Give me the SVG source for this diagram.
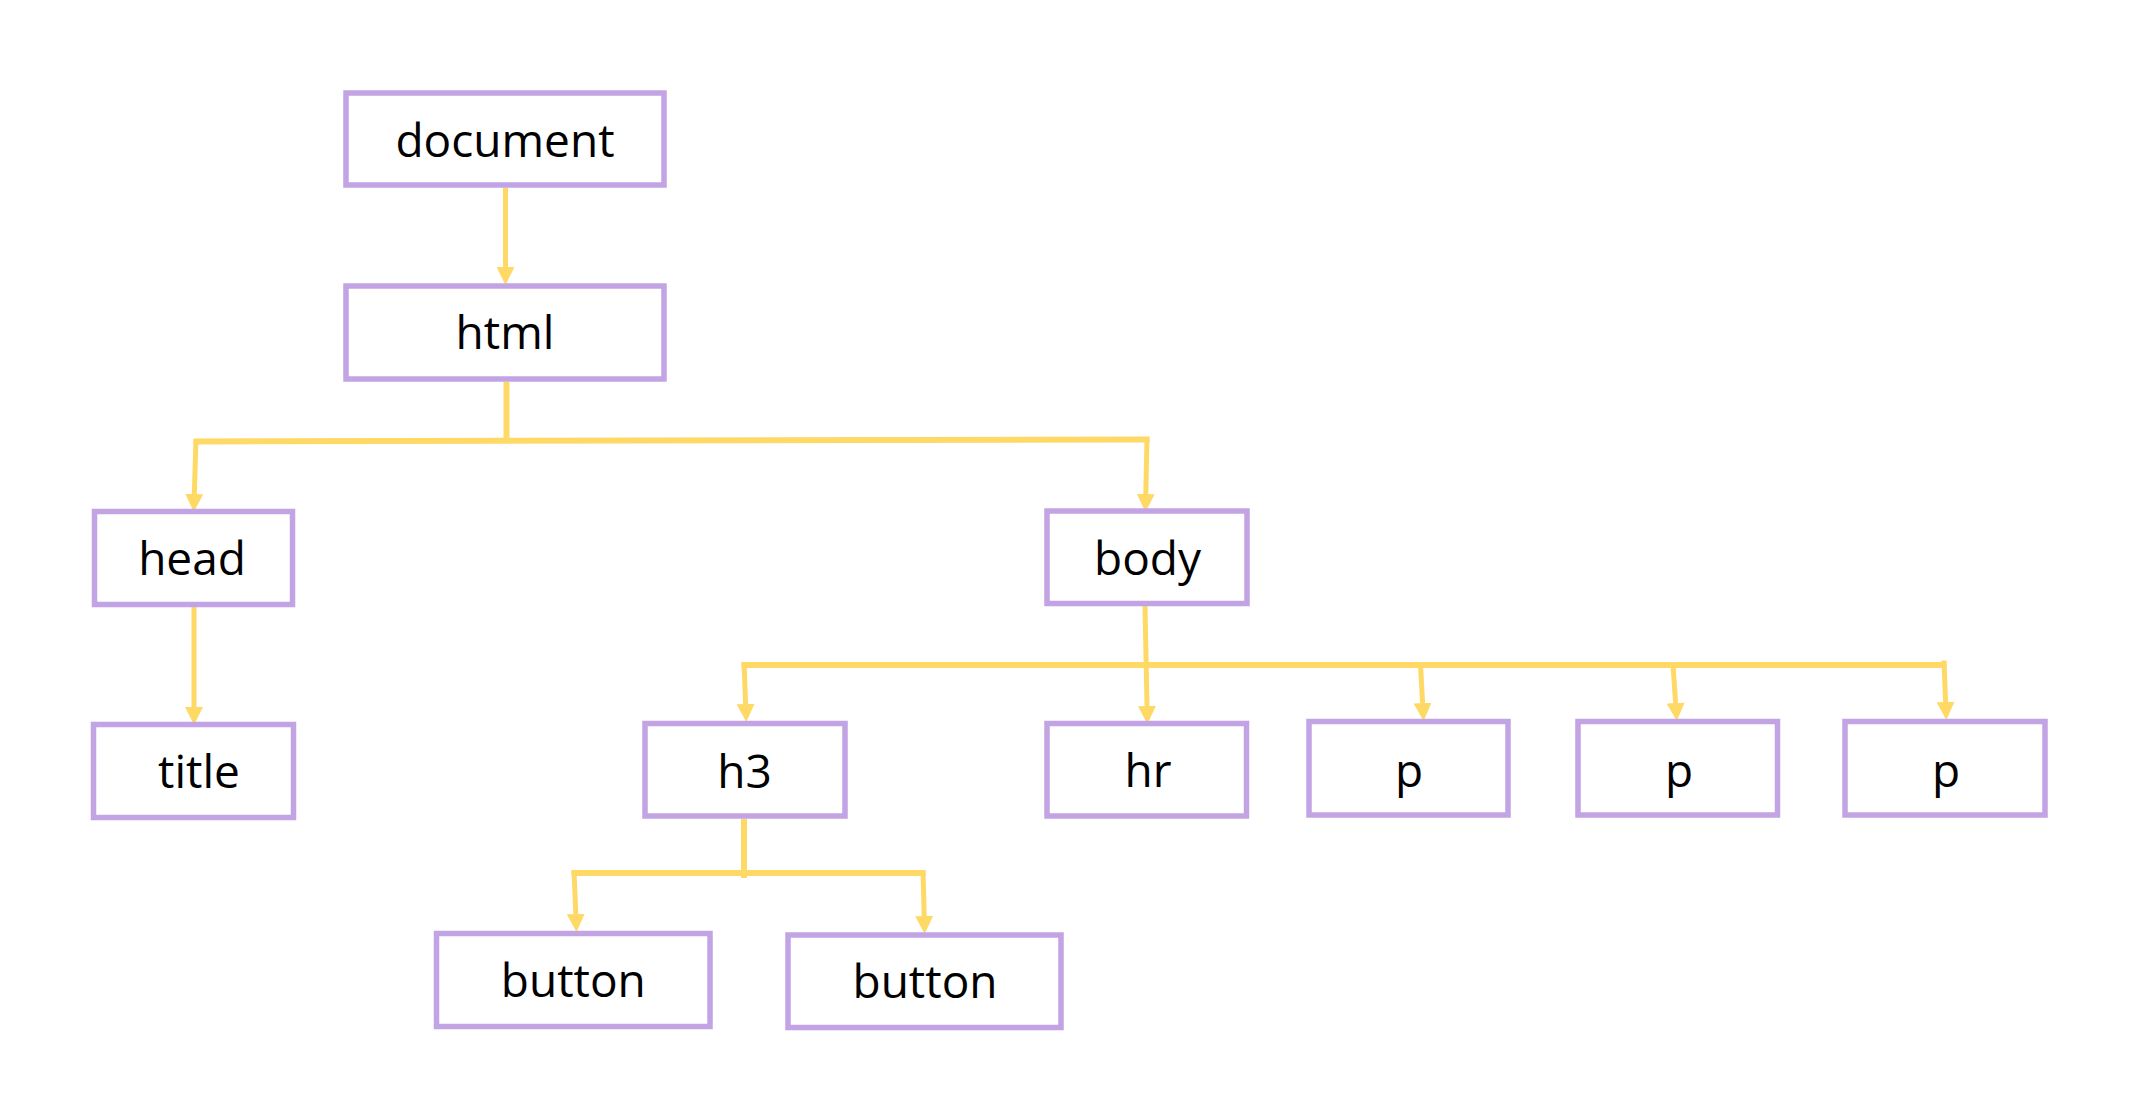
<svg xmlns="http://www.w3.org/2000/svg" width="2143" height="1102" viewBox="0 0 2143 1102">
<style>
.box{fill:#ffffff;stroke:#C2A4E4;stroke-width:5.5}
.lbl{font-family:"Open Sans","Noto Sans","DejaVu Sans",sans-serif;font-size:46px;fill:#000000;text-anchor:middle}
.ln{fill:none;stroke:#FFD966;stroke-width:6}
.ar{fill:none;stroke:#FFD966;stroke-width:5;marker-end:url(#arrow)}
</style>
<defs>
<marker id="arrow" markerUnits="userSpaceOnUse" markerWidth="18" markerHeight="18" viewBox="0 0 17 17" refX="0" refY="8.5" orient="auto">
<path d="M0,0 L17,8.5 L0,17 Z" fill="#FFD966"/>
</marker>
</defs>
<rect x="0" y="0" width="2143" height="1102" fill="#ffffff"/>
<g id="connectors">
<path class="ar" d="M505.5,188 L505.5,267"/>
<path class="ln" d="M506.5,382 L506.5,441"/>
<path class="ln" d="M193.5,441.5 L1149.5,439.5"/>
<path class="ar" d="M196,439 L194.3,494"/>
<path class="ar" d="M1147,437 L1145.8,494"/>
<path class="ar" d="M194,607 L194,707"/>
<path class="ar" d="M1145,606 L1147,706"/>
<path class="ln" d="M741.5,665 L1946.5,665"/>
<path class="ar" d="M744,662.5 L745.6,704"/>
<path class="ar" d="M1420.5,665 L1422.6,703"/>
<path class="ar" d="M1673,665 L1675.6,703"/>
<path class="ar" d="M1944,660.5 L1945.6,702"/>
<path class="ln" d="M744,819 L744,878"/>
<path class="ln" d="M571.5,873 L925.5,873"/>
<path class="ar" d="M574,870.5 L575.8,914"/>
<path class="ar" d="M923,870.5 L924.2,916"/>
</g>
<g id="node-document"><rect class="box" x="346" y="93" width="318" height="92"/><text class="lbl" x="505" y="157">document</text></g>
<g id="node-html"><rect class="box" x="346" y="286" width="318" height="93"/><text class="lbl" x="505" y="349">html</text></g>
<g id="node-head"><rect class="box" x="94.5" y="511.5" width="198" height="93"/><text class="lbl" x="192" y="575">head</text></g>
<g id="node-title"><rect class="box" x="93.5" y="724.5" width="200" height="93"/><text class="lbl" x="199" y="788">title</text></g>
<g id="node-body"><rect class="box" x="1047" y="511" width="200" height="92.5"/><text class="lbl" x="1147.5" y="575">body</text></g>
<g id="node-h3"><rect class="box" x="645" y="723.5" width="200" height="92.5"/><text class="lbl" x="744.5" y="787.5">h3</text></g>
<g id="node-hr"><rect class="box" x="1047" y="723.5" width="199.5" height="92.5"/><text class="lbl" x="1148" y="786.5">hr</text></g>
<g id="node-p1"><rect class="box" x="1309" y="721.5" width="199" height="93.5"/><text class="lbl" x="1409" y="786.5">p</text></g>
<g id="node-p2"><rect class="box" x="1578" y="721.5" width="199.5" height="93.5"/><text class="lbl" x="1679" y="786.5">p</text></g>
<g id="node-p3"><rect class="box" x="1845" y="721.5" width="200" height="93.5"/><text class="lbl" x="1946" y="786.5">p</text></g>
<g id="node-button1"><rect class="box" x="436.5" y="933.5" width="273.5" height="93"/><text class="lbl" x="573.3" y="996.7">button</text></g>
<g id="node-button2"><rect class="box" x="788" y="935" width="273" height="92.5"/><text class="lbl" x="925" y="998">button</text></g>
</svg>
